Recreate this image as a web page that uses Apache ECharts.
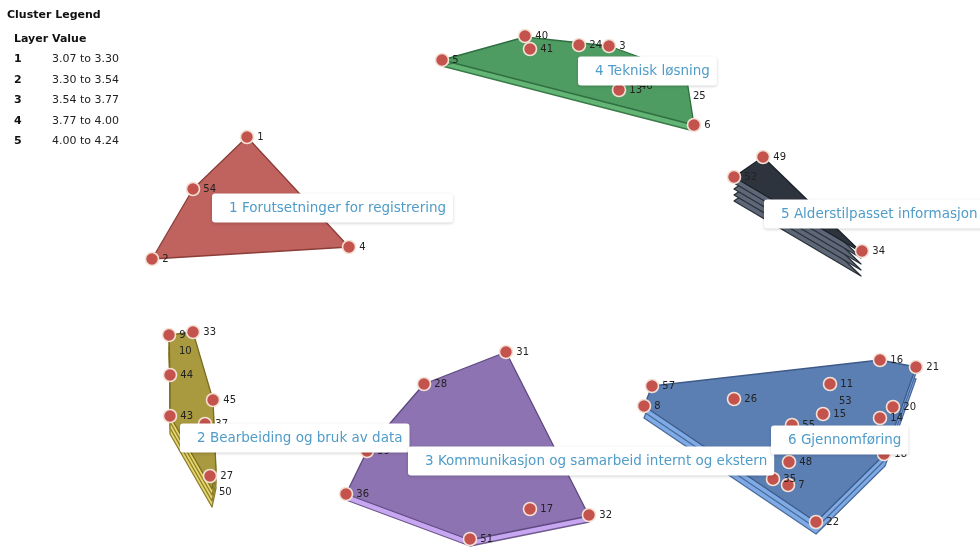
<!DOCTYPE html>
<html>
<head>
<meta charset="utf-8">
<script src="https://cdn.jsdelivr.net/npm/echarts@6/dist/echarts.min.js"></script>
<style>html,body{margin:0;padding:0;background:#fff}#c{width:980px;height:553px}</style>
</head>
<body>
<div id="c"></div>
<script>
// ---------------- DATA ----------------
const clusterNames = [
  '1 Forutsetninger for registrering',
  '2 Bearbeiding og bruk av data',
  '3 Kommunikasjon og samarbeid internt og ekstern',
  '4 Teknisk løsning',
  '5 Alderstilpasset informasjon',
  '6 Gjennomføring'
];
const clusterLayers = [1, 4, 2, 2, 5, 3];
// cluster label anchors (left edge, vertical middle)
const clusterLabelAnchor = [[212, 208], [180, 438], [408, 461], [578, 71], [764, 214], [771, 440]];
// cluster boundaries (map coordinates)
const hull1 = [[247, 137], [193, 189], [152, 259], [349, 247]];
const hull2 = [[169, 335], [193, 332], [213, 400], [216, 470], [212, 489], [170, 416], [170, 375]];
const hull3 = [[506, 352], [424, 384], [392, 421], [367, 451], [346, 494], [470, 540], [589, 516]];
const hull4 = [[442, 60], [525, 37], [609, 46], [686, 74], [694, 125]];
const hull5 = [[763, 157], [734, 177], [861, 252]];
const hull6 = [[644, 406], [652, 386], [880, 360], [916, 367], [885, 454], [816, 522]];
const hulls = [hull1, hull2, hull3, hull4, hull5, hull6];
// statements: [id, x, y]
const points = [
  [1, 247, 137], [54, 193, 189], [2, 152, 259], [4, 349, 247],
  [9, 169, 335], [33, 193, 332], [44, 170, 375], [45, 213, 400], [43, 170, 416], [37, 205, 424], [27, 210, 476],
  [31, 506, 352], [28, 424, 384], [39, 367, 451], [36, 346, 494], [51, 470, 539], [17, 530, 509], [32, 589, 515],
  [40, 525, 36], [41, 530, 49], [24, 579, 45], [3, 609, 46], [5, 442, 60], [13, 619, 90], [6, 694, 125],
  [49, 763, 157], [52, 734, 177], [34, 862, 251],
  [57, 652, 386], [8, 644, 406], [26, 734, 399], [11, 830, 384], [15, 823, 414], [16, 880, 360], [21, 916, 367],
  [20, 893, 407], [14, 880, 418], [55, 792, 425], [48, 789, 462], [18, 884, 454], [35, 773, 479], [7, 788, 485], [22, 816, 522]
];
// statements whose markers are hidden: [id, x, y]
const unmarkedPoints = [[10, 171, 351], [42, 222, 448], [50, 211, 492], [46, 632, 86], [25, 685, 96], [53, 831, 401]];
const legendLayers = ['1', '2', '3', '4', '5'];
const legendRanges = ['3.07 to 3.30', '3.30 to 3.54', '3.54 to 3.77', '3.77 to 4.00', '4.00 to 4.24'];

// ---------------- STYLE ----------------
const topFill = ['#c0625e', '#a9993f', '#8d73b1', '#4f9c62', '#2e343e', '#5c7fb3'];
const topStroke = ['#8a3d39', '#7a6c22', '#5e4a80', '#2f6e40', '#1b1f26', '#3d5a88'];
const lowFill = ['#c0625e', '#e6d66a', '#c7a6f2', '#62b574', '#5d6778', '#7eaae6'];
const lowStroke = ['#8a3d39', '#8c7d2c', '#6e5a8c', '#3a7a48', '#2a3038', '#4a6a9a'];
const layerOffset = 6;

const layerData = [];
clusterLayers.forEach((n, ci) => {
  for (let k = n - 1; k >= 0; k--) layerData.push([ci, k]);
});

const chart = echarts.init(document.getElementById('c'), null, { renderer: 'canvas' });

const graphics = [];
graphics.push({ type: 'text', left: 7, top: 10, style: { text: 'Cluster Legend', font: 'bold 11px "DejaVu Sans"', fill: '#111' } });
graphics.push({ type: 'text', left: 14, top: 34, style: { text: 'Layer', font: 'bold 11px "DejaVu Sans"', fill: '#111' } });
graphics.push({ type: 'text', left: 52, top: 34, style: { text: 'Value', font: 'bold 11px "DejaVu Sans"', fill: '#111' } });
const rowY = [54, 75, 95, 116, 136];
legendLayers.forEach((l, i) => {
  graphics.push({ type: 'text', left: 14, top: rowY[i], style: { text: l, font: 'bold 11px "DejaVu Sans"', fill: '#111' } });
  graphics.push({ type: 'text', left: 52, top: rowY[i], style: { text: legendRanges[i], font: '11px "DejaVu Sans"', fill: '#222' } });
});

chart.setOption({
  animation: false,
  backgroundColor: '#fff',
  grid: { left: 0, right: 0, top: 0, bottom: 0 },
  xAxis: { type: 'value', min: 0, max: 980, show: false },
  yAxis: { type: 'value', min: 0, max: 553, inverse: true, show: false },
  graphic: graphics,
  series: [
    {
      type: 'custom',
      coordinateSystem: 'cartesian2d',
      clip: false,
      z: 1,
      data: layerData,
      renderItem: function (params, api) {
        const ci = api.value(0), k = api.value(1);
        const dy = k * layerOffset;
        const pts = hulls[ci].map(p => { const c = api.coord(p); return [c[0], c[1] + dy]; });
        const top = k === 0;
        return {
          type: 'polygon',
          shape: { points: pts },
          style: {
            fill: top ? topFill[ci] : lowFill[ci],
            stroke: top ? topStroke[ci] : lowStroke[ci],
            lineWidth: 1.3,
            lineJoin: 'round'
          }
        };
      }
    },
    {
      type: 'scatter',
      z: 3,
      symbolSize: 0,
      itemStyle: { opacity: 1 },
      data: unmarkedPoints.map(p => ({ value: [p[1], p[2]], name: String(p[0]) })),
      label: { show: true, position: 'right', distance: 8, formatter: '{b}', fontSize: 10, color: '#222', fontFamily: 'DejaVu Sans', opacity: 1 },
      silent: true
    },
    {
      type: 'scatter',
      z: 4,
      symbol: 'circle',
      symbolSize: 13,
      itemStyle: { color: '#c4524d', borderColor: '#f3e2d6', borderWidth: 1.6, opacity: 1 },
      data: points.map(p => ({ value: [p[1], p[2]], name: String(p[0]) })),
      label: { show: true, position: 'right', distance: 3, formatter: '{b}', fontSize: 10, color: '#222', fontFamily: 'DejaVu Sans', opacity: 1 },
      labelLayout: { hideOverlap: false },
      silent: true
    },
    {
      type: 'scatter',
      z: 10,
      symbolSize: 0,
      itemStyle: { opacity: 1 },
      data: clusterNames.map((n, i) => ({ value: clusterLabelAnchor[i], name: n })),
      label: {
        show: true, position: 'right', distance: 0, formatter: '{b}', opacity: 1,
        fontSize: 13.5, fontFamily: 'DejaVu Sans', color: '#4f9cc8', lineHeight: 15,
        backgroundColor: '#ffffff', padding: [7, 7, 7, 17], borderRadius: 3,
        shadowBlur: 3, shadowColor: 'rgba(0,0,0,0.18)', shadowOffsetY: 1
      },
      silent: true
    }
  ]
});
</script>
</body>
</html>
